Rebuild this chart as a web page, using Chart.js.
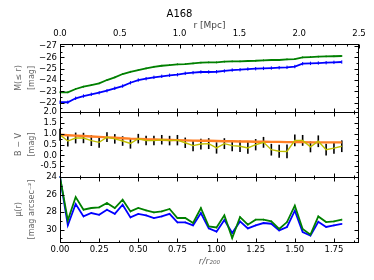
<!DOCTYPE html>
<html>
<head>
<meta charset="utf-8">
<script src="https://cdn.jsdelivr.net/npm/chart.js@4.4.1/dist/chart.umd.min.js"></script>
<style>
  html, body { margin: 0; padding: 0; background: #fff; }
  #wrap { width: 374px; height: 280px; }
</style>
</head>
<body>
<div id="wrap"><canvas id="chart" width="374" height="280"></canvas></div>
<script>
// r / r200 sampling of the profiles
const radius = [0.00, 0.05, 0.10, 0.15, 0.20, 0.25, 0.30, 0.35, 0.40, 0.45,
                0.50, 0.55, 0.60, 0.65, 0.70, 0.75, 0.80, 0.85, 0.90, 0.95,
                1.00, 1.05, 1.10, 1.15, 1.20, 1.25, 1.30, 1.35, 1.40, 1.45,
                1.50, 1.55, 1.60, 1.65, 1.70, 1.75, 1.80];

// M(<= r), green (R) and blue (B)
const magGreen = [-22.92, -22.92, -23.21, -23.41, -23.56, -23.71, -24.00, -24.24, -24.53, -24.73,
                  -24.88, -25.03, -25.17, -25.26, -25.32, -25.39, -25.41, -25.47, -25.53, -25.56,
                  -25.56, -25.62, -25.65, -25.65, -25.68, -25.70, -25.74, -25.77, -25.77, -25.83,
                  -25.85, -26.00, -26.03, -26.06, -26.09, -26.10, -26.12];
const magBlue = [-22.04, -22.04, -22.39, -22.59, -22.74, -22.88, -23.06, -23.27, -23.47, -23.76,
                 -24.00, -24.12, -24.24, -24.33, -24.42, -24.47, -24.59, -24.65, -24.71, -24.71,
                 -24.73, -24.80, -24.88, -24.91, -24.97, -25.00, -25.03, -25.06, -25.09, -25.12,
                 -25.19, -25.44, -25.47, -25.50, -25.53, -25.56, -25.59];

// B - V colour: local (yellow, with errors) and cumulative (orange)
const colourLocal = [0.95, 0.66, 0.80, 0.80, 0.68, 0.60, 0.84, 0.76, 0.66, 0.55,
                     0.77, 0.68, 0.68, 0.72, 0.68, 0.70, 0.58, 0.45, 0.52, 0.54,
                     0.34, 0.54, 0.45, 0.42, 0.34, 0.49, 0.60, 0.26, 0.19, 0.18,
                     0.69, 0.69, 0.39, 0.65, 0.26, 0.33, 0.42];
const colourErr = [0.28, 0.25, 0.25, 0.24, 0.25, 0.25, 0.22, 0.22, 0.22, 0.24,
                   0.22, 0.22, 0.22, 0.22, 0.22, 0.24, 0.24, 0.26, 0.25, 0.25,
                   0.26, 0.25, 0.26, 0.27, 0.27, 0.26, 0.25, 0.27, 0.30, 0.32,
                   0.27, 0.25, 0.25, 0.27, 0.27, 0.26, 0.27];
const colourCum = [0.95, 0.93, 0.91, 0.89, 0.87, 0.85, 0.83, 0.81, 0.79, 0.77,
                   0.76, 0.74, 0.73, 0.72, 0.71, 0.70, 0.69, 0.68, 0.67, 0.67,
                   0.66, 0.65, 0.65, 0.64, 0.64, 0.63, 0.63, 0.62, 0.62, 0.61,
                   0.61, 0.61, 0.60, 0.60, 0.60, 0.60, 0.60];

// surface brightness mu(r)
const muGreen = [24.00, 28.94, 26.28, 27.72, 27.53, 27.46, 26.96, 27.53, 26.59, 27.92,
                 27.53, 27.80, 28.03, 27.92, 27.64, 28.67, 28.67, 29.24, 27.53, 29.63,
                 29.75, 28.37, 30.95, 28.56, 29.43, 28.86, 28.86, 29.06, 29.92, 29.13,
                 27.27, 29.92, 30.57, 28.49, 29.13, 29.06, 28.86];
const muBlue = [24.00, 29.50, 27.08, 28.49, 28.10, 28.30, 27.72, 28.20, 27.15, 28.60,
                28.20, 28.37, 28.67, 28.49, 28.20, 29.17, 29.17, 29.50, 28.10, 29.85,
                30.22, 28.90, 30.38, 29.06, 29.85, 29.51, 29.24, 29.32, 30.08, 29.69,
                27.84, 30.26, 30.67, 29.10, 29.69, 29.51, 29.34];

// tick values
const rTicks = [0, 0.25, 0.5, 0.75, 1.0, 1.25, 1.5, 1.75];
const mpcTicks = [0, 0.5, 1.0, 1.5, 2.0, 2.5];
const magTicks = [-27, -26, -25, -24, -23, -22];
const colourTicks = [-1.0, -0.5, 0.0, 0.5, 1.0, 1.5, 2.0];
const muTicks = [24, 26, 28, 30];

const FONT = 'DejaVu Sans';
const minus = s => s.replace('-', '\u2212');
const pts = vals => radius.map((r, i) => ({x: r, y: vals[i]}));
const setTicks = list => s => { s.ticks = list.map(v => ({value: v})); };

// error bars drawn through the scales
const errorBars = {
  id: 'errorBars',
  beforeDatasetsDraw(chart) {
    const ctx = chart.ctx;
    chart.data.datasets.forEach(ds => {
      if (ds.errors === undefined) return;
      const xs = chart.scales[ds.xAxisID], ys = chart.scales[ds.yAxisID];
      ctx.save();
      ctx.strokeStyle = ds.errorColor;
      ctx.lineWidth = ds.errorWidth;
      ds.data.forEach((p, i) => {
        const e = Array.isArray(ds.errors) ? ds.errors[i] : ds.errors;
        const x = xs.getPixelForValue(p.x);
        ctx.beginPath();
        ctx.moveTo(x, ys.getPixelForValue(p.y - e));
        ctx.lineTo(x, ys.getPixelForValue(p.y + e));
        ctx.stroke();
      });
      ctx.restore();
    });
  }
};

// matplotlib-like boxes with inward major/minor ticks on every side
const frameTicks = {
  id: 'frameTicks',
  afterDraw(chart) {
    const {ctx, chartArea} = chart;
    const L = Math.round(chartArea.left) + 0.5, R = Math.round(chartArea.right) - 0.5;
    const xs = chart.scales.x, xt = chart.scales.x2;
    ctx.save();
    ctx.strokeStyle = '#000';
    ctx.lineWidth = 1;
    const seg = (x1, y1, x2, y2) => { ctx.beginPath(); ctx.moveTo(x1, y1); ctx.lineTo(x2, y2); ctx.stroke(); };
    const isMajor = (v, step) => Math.abs(v / step - Math.round(v / step)) < 1e-6;
    ['y1', 'y2', 'y3'].forEach((id, k) => {
      const s = chart.scales[id];
      const T = Math.round(s.top) + 0.5, B = Math.round(s.bottom) + 0.5;
      ctx.strokeRect(L, T, R - L, B - T);
      const step = s.options.minorStep * 2, half = s.options.minorStep;
      const lo = Math.min(s.min, s.max), hi = Math.max(s.min, s.max);
      for (let v = Math.ceil(lo / half - 1e-6) * half; v <= hi + 1e-6; v += half) {
        const len = isMajor(v, step) ? 4 : 2;
        const y = Math.round(s.getPixelForValue(v)) + 0.5;
        seg(L, y, L + len, y);
        seg(R, y, R - len, y);
      }
      for (let v = 0; v <= xs.max + 1e-6; v += 0.125) {
        const len = isMajor(v, 0.25) ? 4 : 2;
        const x = Math.round(xs.getPixelForValue(v)) + 0.5;
        seg(x, B, x, B - len);
        if (k > 0) seg(x, T, x, T + len);
      }
      if (k === 0) {
        for (let v = 0; v <= xt.max + 1e-6; v += 0.1) {
          const len = isMajor(v, 0.5) ? 4 : 2;
          const x = Math.round(xt.getPixelForValue(v)) + 0.5;
          seg(x, T, x, T + len);
        }
      }
    });
    ctx.restore();
  }
};

const tickFont = {family: FONT, size: 8.5};
const yTitle = text => ({
  display: true, text: text, color: '#666',
  font: {family: FONT, size: 8, lineHeight: 1.6},
  padding: {top: 12.5, bottom: 0}
});
const yAxis = (weight, stackWeight, extra) => Object.assign({
  type: 'linear', position: 'left', stack: 'panels', stackWeight: stackWeight, weight: weight,
  grid: {display: false, drawTicks: false}, border: {display: false},
  afterFit: s => { s.width = 60; }
}, extra);

new Chart(document.getElementById('chart'), {
  type: 'line',
  data: {
    datasets: [
      {data: pts(magGreen), xAxisID: 'x', yAxisID: 'y1', borderColor: '#008000', borderWidth: 1.8,
       errors: 0.08, errorColor: '#008000', errorWidth: 1},
      {data: pts(magBlue), xAxisID: 'x', yAxisID: 'y1', borderColor: '#0000ff', borderWidth: 1.8,
       errors: 0.15, errorColor: '#0000ff', errorWidth: 1},
      {data: pts(colourLocal), xAxisID: 'x', yAxisID: 'y2', borderColor: '#bfbf00', borderWidth: 1.4,
       errors: colourErr, errorColor: '#000', errorWidth: 1.6},
      {data: pts(colourCum), xAxisID: 'x', yAxisID: 'y2', borderColor: '#ff7f24', borderWidth: 2.4},
      {data: pts(muGreen), xAxisID: 'x', yAxisID: 'y3', borderColor: '#008000', borderWidth: 1.8,
       errors: 0.1, errorColor: '#008000', errorWidth: 1},
      {data: pts(muBlue), xAxisID: 'x', yAxisID: 'y3', borderColor: '#0000ff', borderWidth: 1.8,
       errors: 0.1, errorColor: '#0000ff', errorWidth: 1}
    ]
  },
  options: {
    responsive: false,
    animation: false,
    devicePixelRatio: 1,
    elements: {point: {radius: 0}, line: {tension: 0}},
    layout: {padding: {left: 0, right: 15, top: 0, bottom: 0}},
    plugins: {
      legend: {display: false},
      tooltip: {enabled: false},
      title: {display: true, text: 'A168', color: '#000',
              font: {family: FONT, size: 10, weight: 'normal', lineHeight: 1.2},
              padding: {top: 8, bottom: 0}}
    },
    scales: {
      x: {
        type: 'linear', position: 'bottom', min: 0, max: 1.91,
        grid: {display: false, drawTicks: false}, border: {display: false},
        afterBuildTicks: setTicks(rTicks),
        ticks: {autoSkip: false, color: '#000', font: tickFont, padding: 3,
                maxRotation: 0, callback: v => v.toFixed(2)},
        title: {display: true, text: 'r/r\u2082\u2080\u2080', color: '#666',
                font: {family: FONT, size: 9, style: 'italic'}, padding: {top: 0, bottom: 13}},
        afterFit: s => { s.height = 38; }
      },
      x2: {
        type: 'linear', position: 'top', min: 0, max: 2.5,
        grid: {display: false, drawTicks: false}, border: {display: false},
        afterBuildTicks: setTicks(mpcTicks),
        ticks: {autoSkip: false, color: '#000', font: tickFont, padding: 5,
                maxRotation: 0, callback: v => v.toFixed(1)},
        title: {display: true, text: 'r [Mpc]', color: '#444',
                font: {family: FONT, size: 9}, padding: {top: 0, bottom: 0}},
        afterFit: s => { s.height = 24; }
      },
      y1: yAxis(3, 68, {
        reverse: true, min: -27.18, max: -21.18, minorStep: 0.5,
        afterBuildTicks: setTicks(magTicks),
        ticks: {autoSkip: false, color: '#000', font: tickFont, padding: 3,
                callback: v => minus(v.toFixed(0))},
        title: yTitle(['M(\u2264 r)', '[mag]'])
      }),
      y2: yAxis(2, 65, {
        min: -1, max: 2, minorStep: 0.25,
        afterBuildTicks: setTicks(colourTicks),
        ticks: {autoSkip: false, color: '#000', font: tickFont, padding: 3,
                callback: v => (v <= -1 ? '' : v.toFixed(1))},
        title: yTitle(['B \u2212 V', '[mag]'])
      }),
      y3: yAxis(1, 65, {
        reverse: true, min: 24, max: 31.4, minorStep: 1,
        afterBuildTicks: setTicks(muTicks),
        ticks: {autoSkip: false, color: '#000', font: tickFont, padding: 3,
                callback: v => v.toFixed(0)},
        title: yTitle(['\u03bc(r)', '[mag arcsec\u207b\u00b2]'])
      })
    }
  },
  plugins: [errorBars, frameTicks]
});
</script>
</body>
</html>
